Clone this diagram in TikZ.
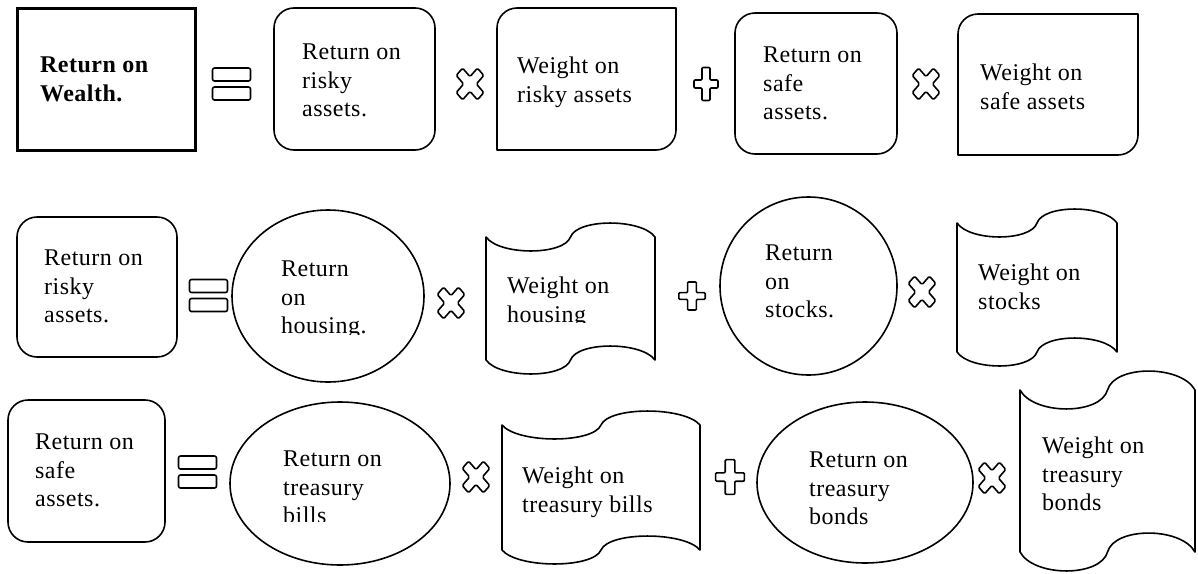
\documentclass[tikz,border=0pt]{standalone}
\usepackage{fontspec}
\setmainfont{Liberation Serif}[LetterSpace=2]
\newcommand\drawscroll[5]{%
  \pgfmathsetmacro\scL{#1}\pgfmathsetmacro\scR{#2}%
  \pgfmathsetmacro\scT{#3}\pgfmathsetmacro\scB{#4}%
  \pgfmathsetmacro\scA{#5*1.33}%
  \pgfmathsetmacro\scM{(\scL+\scR)/2}\pgfmathsetmacro\scW{\scR-\scL}%
  \pgfmathsetmacro\scCa{\scL+0.08*\scW}\pgfmathsetmacro\scCb{\scM-0.04*\scW}%
  \pgfmathsetmacro\scCc{\scM+0.04*\scW}\pgfmathsetmacro\scCd{\scR-0.08*\scW}%
  \draw[shp] (\scL,\scT) .. controls ({\scCa},{\scT+\scA}) and ({\scCb},{\scT+\scA}) .. (\scM,\scT)
    .. controls ({\scCc},{\scT-\scA}) and ({\scCd},{\scT-\scA}) .. (\scR,\scT)
    -- (\scR,\scB)
    .. controls ({\scCd},{\scB-\scA}) and ({\scCc},{\scB-\scA}) .. (\scM,\scB)
    .. controls ({\scCb},{\scB+\scA}) and ({\scCa},{\scB+\scA}) .. (\scL,\scB) -- cycle;}
\newcommand\drawtab[5]{%
  \draw[shp] (#1,#4) -- ({#1},{#3+#5}) .. controls ({#1},{#3+0.448*#5}) and ({#1+0.448*#5},{#3}) .. ({#1+#5},{#3})
    -- (#2,#3) -- ({#2},{#4-#5}) .. controls ({#2},{#4-0.448*#5}) and ({#2-0.448*#5},{#4}) .. ({#2-#5},{#4}) -- cycle;}
\begin{document}
\begin{tikzpicture}[x=1pt,y=-1pt,
  shp/.style={line width=1.6pt, line join=round},
  lbl/.style={anchor=north west, inner sep=0pt, align=left, font=\fontsize{24}{28.5}\selectfont},
  opEq/.pic={\draw[shp, rounded corners=2pt] (-19,-16) rectangle (19,-3);
             \draw[shp, rounded corners=2pt] (-19,3) rectangle (19,16);},
  opPlus/.pic={\draw[shp, rounded corners=1pt] (-4,-16.5) -- (4,-16.5) -- (4,-4) -- (12,-4) -- (12,4) -- (4,4)
             -- (4,16.5) -- (-4,16.5) -- (-4,4) -- (-12,4) -- (-12,-4) -- (-4,-4) -- cycle;},
  opTimes/.pic={\draw[shp, rounded corners=1.5pt, yscale=1.15, rotate=45] (-4.5,-15) -- (4.5,-15) -- (4.5,-4.5)
             -- (15,-4.5) -- (15,4.5) -- (4.5,4.5) -- (4.5,15) -- (-4.5,15) -- (-4.5,4.5) -- (-15,4.5)
             -- (-15,-4.5) -- (-4.5,-4.5) -- cycle;}
]
\useasboundingbox (0,0) rectangle (1198,573);

% ---------- row 1 ----------
\draw[line width=3pt] (17,8) rectangle (195,150);
\node[lbl, font=\fontsize{24}{28.5}\selectfont\bfseries] (wealth) at (40,57) {Return on\\Wealth.};
\pic at (231.5,84) {opEq};
\draw[shp, rounded corners=20pt] (274,8) rectangle (435,150);
\node[lbl] (rrisky1) at (302,44) {Return on\\risky\\assets.};
\pic at (470,84) {opTimes};
\drawtab{497}{676}{8}{150}{20}
\node[lbl] (wrisky) at (517,57) {Weight on\\risky assets};
\pic at (706,84) {opPlus};
\draw[shp, rounded corners=20pt] (735,13) rectangle (897,154);
\node[lbl] (rsafe1) at (763,47) {Return on\\safe\\assets.};
\pic at (926,84) {opTimes};
\drawtab{958}{1138}{14}{155}{20}
\node[lbl] (wsafe) at (980,64) {Weight on\\safe assets};

% ---------- row 2 ----------
\draw[shp, rounded corners=20pt] (17,217) rectangle (177,357);
\node[lbl] (rrisky2) at (44,250) {Return on\\risky\\assets.};
\pic at (208.5,295.5) {opEq};
\draw[shp] (328,296) ellipse [x radius=96pt, y radius=86pt];
\begin{scope}
  \clip (0,0) rectangle (1198,334);
  \node[lbl] (rhousing) at (281,261) {Return\\on\\housing.};
\end{scope}
\pic at (451,303) {opTimes};
\drawscroll{486}{655}{237}{360}{14}
\begin{scope}
  \clip (0,0) rectangle (1198,322);
  \node[lbl] (whousing) at (507,277) {Weight on\\housing};
\end{scope}
\pic[xscale=1.1, yscale=0.85] at (692,296) {opPlus};
\draw[shp] (808.5,286) ellipse [x radius=88.5pt, y radius=89pt];
\node[lbl] (rstocks) at (765,245) {Return\\on\\stocks.};
\pic at (922,292) {opTimes};
\drawscroll{957}{1117}{223}{352}{14}
\node[lbl] (wstocks) at (978,264) {Weight on\\stocks};

% ---------- row 3 ----------
\draw[shp, rounded corners=20pt] (8,400) rectangle (165,542);
\node[lbl] (rsafe2) at (35,434) {Return on\\safe\\assets.};
\pic at (197.5,472) {opEq};
\draw[shp] (340,483.5) ellipse [x radius=110pt, y radius=81.5pt];
\begin{scope}
  \clip (0,0) rectangle (1198,521);
  \node[lbl] (rbills) at (283,451) {Return on\\treasury\\bills};
\end{scope}
\pic at (476,477) {opTimes};
\drawscroll{502}{700}{425}{550}{14}
\node[lbl] (wbills) at (522,467) {Weight on\\treasury bills};
\pic[xscale=1.2, yscale=1.05] at (730,477) {opPlus};
\draw[shp] (865,482.5) ellipse [x radius=108pt, y radius=80.5pt];
\node[lbl] (rbonds) at (809,452) {Return on\\treasury\\bonds};
\pic at (992,478) {opTimes};
\drawscroll{1020}{1195}{390}{552}{19}
\node[lbl] (wbonds) at (1042,437) {Weight on\\treasury\\bonds};
\end{tikzpicture}
\end{document}
